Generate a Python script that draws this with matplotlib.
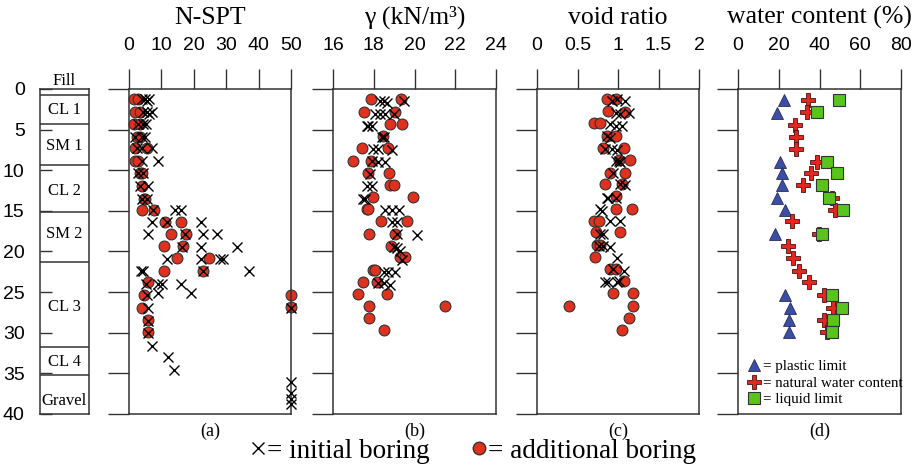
import matplotlib

matplotlib.use("Agg")
import matplotlib.pyplot as plt
from matplotlib.lines import Line2D

SERIF = "Liberation Serif"
SANS = "Liberation Sans"
RED = "#e0301e"
EDGE = "#333333"

# soil profile
LAYER_TOPS = [0, 0.8, 4.35, 9.3, 15.1, 21.3, 31.7, 35.2, 40]
LAYER_NAMES = ["Fill", "CL 1", "SM 1", "CL 2", "SM 2", "CL 3", "CL 4", "Gravel"]
LAYER_LABEL_DEPTHS = [-1.0, 2.6, 7.0, 12.6, 17.8, 26.8, 33.6, 38.4]

# (a) N-SPT
nspt_init_n = [3.9, 4.9, 6.2, 5.5, 4.4, 5.5, 7.0, 6.2, 2.9, 4.4, 5.1, 1.9, 3.9, 4.9,
               2.4, 3.9, 7.0, 3.9, 9.1, 2.9, 4.4, 3.4, 6.0, 3.9, 5.5, 7.5, 14.2, 16.0,
               7.0, 11.6, 22.2, 6.0, 17.3, 22.9, 27.1, 16.3, 22.2, 33.2, 11.6, 22.2,
               28.1, 29.1, 3.7, 4.4, 22.9, 37.0, 5.1, 9.1, 10.1, 16.0, 19.1, 8.8, 5.5,
               6.0, 50, 6.0, 6.0, 7.0, 11.9, 14.0, 50, 50, 50, 50]
nspt_init_d = [1.2, 1.2, 1.2, 1.5, 2.8, 2.8, 2.8, 3.1, 4.3, 4.3, 4.3, 5.9, 5.9, 5.9,
               7.3, 7.3, 7.3, 8.9, 8.9, 10.4, 10.4, 11.9, 11.9, 13.5, 13.5, 14.9, 14.9,
               14.9, 16.4, 16.4, 16.4, 17.8, 17.8, 17.8, 17.8, 19.5, 19.5, 19.5, 20.9,
               20.9, 20.9, 20.9, 22.4, 22.4, 22.4, 22.4, 24.0, 24.0, 24.0, 24.0, 25.1,
               25.1, 25.4, 26.9, 26.9, 28.5, 30.0, 31.6, 33.0, 34.6, 36.1, 37.4, 38.2,
               38.8]
nspt_add_n = [1.6, 2.9, 1.9, 3.4, 1.6, 3.4, 2.4, 3.4, 1.9, 5.5, 1.9, 2.7, 3.4, 3.9,
              3.9, 4.7, 4.9, 3.9, 7.8, 11.1, 16.0, 12.9, 17.5, 10.8, 16.7, 14.9, 24.8,
              10.8, 22.9, 5.9, 4.6, 3.9, 5.9, 5.9, 50, 50]
nspt_add_d = [1.2, 1.2, 2.8, 2.8, 4.3, 4.3, 5.9, 5.9, 7.3, 7.3, 8.9, 8.9, 10.4, 10.4,
              11.9, 13.5, 13.5, 14.9, 14.9, 16.4, 16.4, 17.8, 17.8, 19.3, 19.3, 20.8,
              20.8, 22.4, 22.4, 23.8, 25.3, 26.9, 28.4, 29.9, 25.3, 26.8]

# (b) unit weight
gamma_init = [18.31, 18.52, 18.64, 19.47, 18.06, 18.31, 18.56, 18.97, 17.65, 17.73,
              17.90, 18.39, 18.48, 17.98, 18.23, 18.89, 17.90, 18.23, 18.56, 17.82,
              17.65, 17.90, 17.49, 17.57, 18.56, 18.89, 19.22, 18.89, 19.14, 19.14,
              20.13, 18.97, 19.14, 19.30, 19.38, 18.48, 18.72, 19.05, 18.23, 18.48, 18.81]
gamma_init_d = [1.47, 1.47, 1.67, 1.47, 3.10, 3.10, 3.10, 3.10, 4.53, 4.53, 4.53, 5.88,
                5.96, 7.39, 7.39, 7.51, 8.90, 9.02, 9.02, 10.45, 11.88, 11.88, 13.5,
                13.6, 14.94, 14.94, 14.94, 16.37, 16.37, 17.8, 18.0, 19.43, 19.6, 20.0,
                21.0, 22.5, 22.5, 22.5, 23.9, 23.9, 24.1]
gamma_add = [17.86, 19.35, 17.53, 19.05, 18.81, 19.38, 18.43, 17.44, 18.69, 16.96,
             17.86, 17.73, 18.76, 18.81, 18.97, 17.98, 19.91, 17.65, 17.73, 18.36,
             19.63, 17.77, 19.05, 18.85, 19.30, 19.51, 17.98, 18.06, 17.49, 18.15,
             17.24, 18.64, 17.77, 21.49, 17.77, 18.52]
gamma_add_d = [1.27, 1.27, 2.78, 2.78, 4.33, 4.33, 5.84, 7.27, 7.27, 8.82, 8.82, 10.33,
               10.33, 11.76, 11.76, 13.3, 13.3, 14.73, 14.8, 16.24, 16.24, 17.8, 17.8,
               19.3, 20.73, 20.73, 22.29, 22.29, 23.76, 23.76, 25.22, 25.22, 26.69,
               26.69, 28.24, 29.71]

# (c) void ratio
void_init = [0.92, 0.99, 1.09, 0.97, 1.03, 1.13, 0.90, 0.97, 1.05, 0.86, 0.90, 0.84,
             0.92, 0.99, 0.97, 1.01, 1.03, 0.94, 1.03, 1.09, 0.86, 0.88, 0.97, 0.78,
             0.80, 0.90, 1.03, 0.78, 0.82, 0.76, 0.82, 0.90, 0.99, 0.94, 1.07, 0.84,
             0.88, 0.99, 1.01]
void_init_d = [1.48, 1.27, 1.48, 2.91, 3.03, 2.91, 4.34, 4.55, 4.55, 5.78, 5.98, 7.42,
               7.42, 7.54, 8.85, 8.85, 8.93, 10.29, 11.72, 11.8, 13.36, 13.44, 13.36,
               14.8, 15.0, 16.23, 16.23, 17.87, 17.87, 19.3, 19.3, 19.43, 20.74, 22.17,
               22.38, 23.81, 23.81, 23.81, 23.6]
void_add = [0.87, 0.98, 0.88, 1.09, 0.70, 0.78, 0.86, 0.97, 0.81, 1.08, 1.01, 1.15,
            0.90, 1.09, 0.84, 1.05, 0.97, 0.98, 1.17, 0.70, 0.76, 0.73, 1.03, 0.74,
            0.78, 0.72, 0.90, 0.97, 1.07, 0.94, 1.19, 0.40, 1.19, 1.14, 1.05]
void_add_d = [1.27, 1.27, 2.70, 2.79, 4.22, 4.22, 5.78, 5.78, 7.21, 7.21, 8.77, 8.77,
              10.29, 10.29, 11.64, 11.64, 13.16, 14.8, 14.8, 16.23, 16.23, 17.66, 17.66,
              19.18, 19.18, 20.66, 22.17, 22.17, 23.6, 25.16, 25.16, 26.68, 26.68, 28.2,
              29.67]

# (d) water content
pl_depth = [1.35, 2.9, 8.95, 10.4, 11.8, 13.4, 14.9, 17.8, 25.4, 26.9, 28.4, 29.9]
plastic_limit = [22.6, 18.9, 20.8, 21.8, 21.8, 18.9, 23.0, 18.0, 23.0, 25.7, 24.9, 24.9]
wn_depth = [1.35, 2.8, 4.4, 5.9, 7.4, 8.95, 10.4, 11.8, 13.4, 14.9, 16.3, 17.8, 19.3,
            20.85, 22.4, 23.8, 25.4, 26.9, 28.4, 29.9]
water_content = [34.4, 33.9, 27.9, 28.7, 28.7, 38.9, 35.6, 32.0, 46.2, 47.5, 26.7, 39.7,
                 24.6, 27.0, 29.8, 34.8, 42.1, 46.7, 42.1, 43.8]
ll_depth = [1.35, 2.8, 8.95, 10.4, 11.8, 13.4, 14.9, 17.8, 25.4, 26.9, 28.4, 29.9]
liquid_limit = [49.7, 38.9, 43.8, 48.7, 41.0, 44.8, 51.6, 41.0, 45.9, 50.8, 46.7, 45.9]

W, H = 921, 470
fig = plt.figure(figsize=(W / 100, H / 100), dpi=100)


def px_axes(x0, x1, y0=89, y1=414):
    return fig.add_axes([x0 / W, (H - y1) / H, (x1 - x0) / W, (y1 - y0) / H])


def style_panel(ax, xlim, ticks, ticklabels, title, tag):
    ax.set_xlim(*xlim)
    ax.set_ylim(40, 0)
    ax.set_xticks(ticks)
    ax.set_xticklabels(ticklabels, family=SANS, fontsize=14)
    ax.set_yticks(range(0, 41, 5))
    ax.set_yticklabels([])
    ax.xaxis.tick_top()
    ax.tick_params(axis="x", direction="out", length=14.5, width=1.0, color=EDGE, pad=11)
    ax.tick_params(axis="y", direction="out", length=15, width=1.0, color=EDGE)
    for s in ax.spines.values():
        s.set_color(EDGE)
        s.set_linewidth(1.1)
    ax.text(0.5, 1.2, title, transform=ax.transAxes, ha="center", va="baseline",
            family=SERIF, fontsize=18.5)
    ax.text(0.5, -0.052, tag, transform=ax.transAxes, ha="center", va="center",
            family=SERIF, fontsize=13)


def boring_points(ax, xi, di, xa, da):
    ax.plot(xi, di, ls="none", marker="x", color="black", ms=7.5, mew=1.0,
            clip_on=False, zorder=3)
    ax.plot(xa, da, ls="none", marker="o", mfc=RED, mec=EDGE, mew=0.8, ms=7.8,
            clip_on=False, zorder=2)


# soil column
col = px_axes(40, 89)
col.set_xlim(0, 1)
col.set_ylim(40, 0)
col.set_xticks([])
col.set_yticks(range(0, 41, 5))
col.set_yticklabels([str(v) for v in range(0, 41, 5)], family=SANS, fontsize=14)
col.tick_params(axis="y", direction="in", length=8.5, width=1.0, color=EDGE, pad=11)
for s in col.spines.values():
    s.set_color(EDGE)
    s.set_linewidth(1.1)
for top in LAYER_TOPS[1:-1]:
    col.axhline(top, color=EDGE, lw=1.1)
for name, d in zip(LAYER_NAMES, LAYER_LABEL_DEPTHS):
    col.text(0.5, d, name, ha="center", va="center", family=SERIF, fontsize=12,
             clip_on=False)

ax_a = px_axes(129, 291)
style_panel(ax_a, (0, 50), [0, 10, 20, 30, 40, 50], ["0", "10", "20", "30", "40", "50"],
            "N-SPT", "(a)")
boring_points(ax_a, nspt_init_n, nspt_init_d, nspt_add_n, nspt_add_d)

ax_b = px_axes(333, 496)
style_panel(ax_b, (16, 24), [16, 18, 20, 22, 24], ["16", "18", "20", "22", "24"],
            "γ (kN/m³)", "(b)")
boring_points(ax_b, gamma_init, gamma_init_d, gamma_add, gamma_add_d)

ax_c = px_axes(537, 699)
style_panel(ax_c, (0, 2), [0, 0.5, 1, 1.5, 2], ["0", "0.5", "1", "1.5", "2"],
            "void ratio", "(c)")
boring_points(ax_c, void_init, void_init_d, void_add, void_add_d)

ax_d = px_axes(738, 901)
style_panel(ax_d, (0, 80), [0, 20, 40, 60, 80], ["0", "20", "40", "60", "80"],
            "water content (%)", "(d)")
h_pl, = ax_d.plot(plastic_limit, pl_depth, ls="none", marker="^", mfc="#3b4ea6",
                  mec="#2a2a5a", mew=0.6, ms=8.5)
h_wn, = ax_d.plot(water_content, wn_depth, ls="none", marker="P", mfc="#e3261e",
                  mec="#4a1010", mew=0.6, ms=10)
h_ll, = ax_d.plot(liquid_limit, ll_depth, ls="none", marker="s", mfc="#58c41c",
                  mec=EDGE, mew=0.8, ms=9)
ax_d.legend([h_pl, h_wn, h_ll], ["= plastic limit", "= natural water content", "= liquid limit"],
            loc="lower left", bbox_to_anchor=(0.02, 0.005), frameon=False,
            prop={"family": SERIF, "size": 10.8}, handlelength=0.9, handletextpad=0.15,
            labelspacing=0.2, borderaxespad=0.2, borderpad=0.2)

fig.legend(
    [Line2D([], [], ls="none", marker="x", color="black", ms=9, mew=1.0),
     Line2D([], [], ls="none", marker="o", mfc=RED, mec=EDGE, ms=9)],
    ["= initial boring", "= additional boring"],
    loc="center", bbox_to_anchor=(473 / W, 0.04), ncol=2, frameon=False,
    prop={"family": SERIF, "size": 19.5}, handlelength=0.6, handletextpad=0.05,
    columnspacing=1.5, borderpad=0,
)

fig.savefig("out.png", dpi=100, facecolor="white")
